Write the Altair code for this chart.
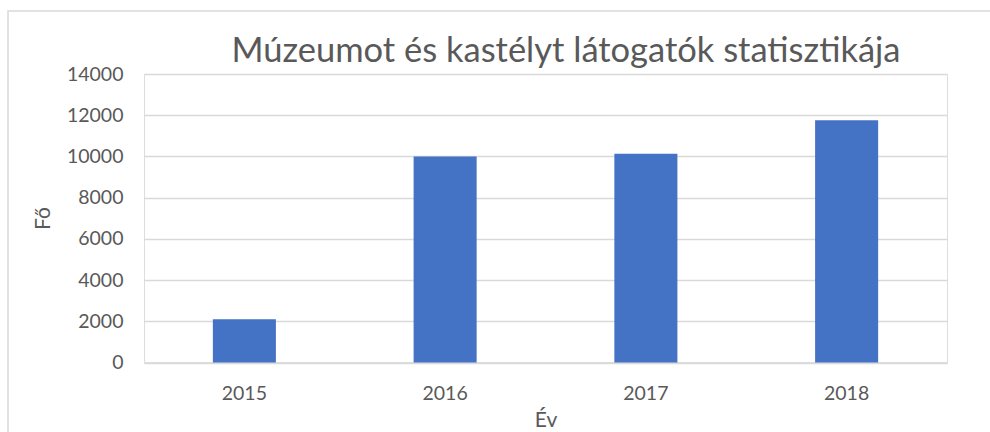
import altair as alt
import pandas as pd

years = ["2015", "2016", "2017", "2018"]
visitors = [2100, 10000, 10130, 11750]
title_text = ["Múzeumot és kastélyt látogatók statisztikája"]

df = pd.DataFrame({"Év": years, "Fő": visitors})

FONT = "Lato"
GRAY = "#595959"

bars = alt.Chart(df).mark_bar(color="#4472C4").encode(
    x=alt.X("Év:N", sort=years,
            scale=alt.Scale(paddingInner=0.686, paddingOuter=0.343),
            axis=alt.Axis(title="Év", labelAngle=0, ticks=False, grid=False,
                          domainColor="#d9d9d9", domainWidth=1.3,
                          labelFont=FONT, labelFontSize=19.5, labelColor=GRAY,
                          labelPadding=22,
                          titleFont=FONT, titleFontSize=21, titleColor=GRAY,
                          titleFontWeight="normal", titleY=64,
                          titleBaseline="alphabetic")),
    y=alt.Y("Fő:Q", scale=alt.Scale(domain=[0, 14000], nice=False),
            axis=alt.Axis(title="Fő", values=list(range(0, 14001, 2000)),
                          format="d",
                          ticks=False, domain=False, gridColor="#d9d9d9",
                          gridWidth=1.3,
                          labelFont=FONT, labelFontSize=19.5, labelColor=GRAY,
                          labelPadding=21,
                          titleFont=FONT, titleFontSize=21, titleColor=GRAY,
                          titleFontWeight="normal", titleAngle=-90,
                          titleX=-101, titleY=144, titleAlign="center",
                          titleBaseline="middle")),
)

frame = alt.Chart(alt.Data(values=[{}])).mark_rect(
    fill=None, stroke="#d9d9d9", strokeWidth=1.5
).encode(
    x=alt.value(8 - 144), y=alt.value(11 - 74),
    x2=alt.value(1100), y2=alt.value(600)
)

title = alt.Chart(alt.Data(values=[{"t": title_text[0]}])).mark_text(
    font=FONT, fontSize=34.5, color=GRAY, align="center", baseline="alphabetic"
).encode(
    text="t:N", x=alt.value(566 - 144), y=alt.value(62 - 74)
)

chart = alt.layer(frame, bars, title).properties(
    width=803, height=288.5,
    autosize=alt.AutoSizeParams(type="none"),
    padding={"left": 144, "top": 74, "right": 43, "bottom": 70},
).configure_view(stroke=None).configure(background="white")

chart.save("out.html", embed_options={"renderer": "svg", "actions": False})
